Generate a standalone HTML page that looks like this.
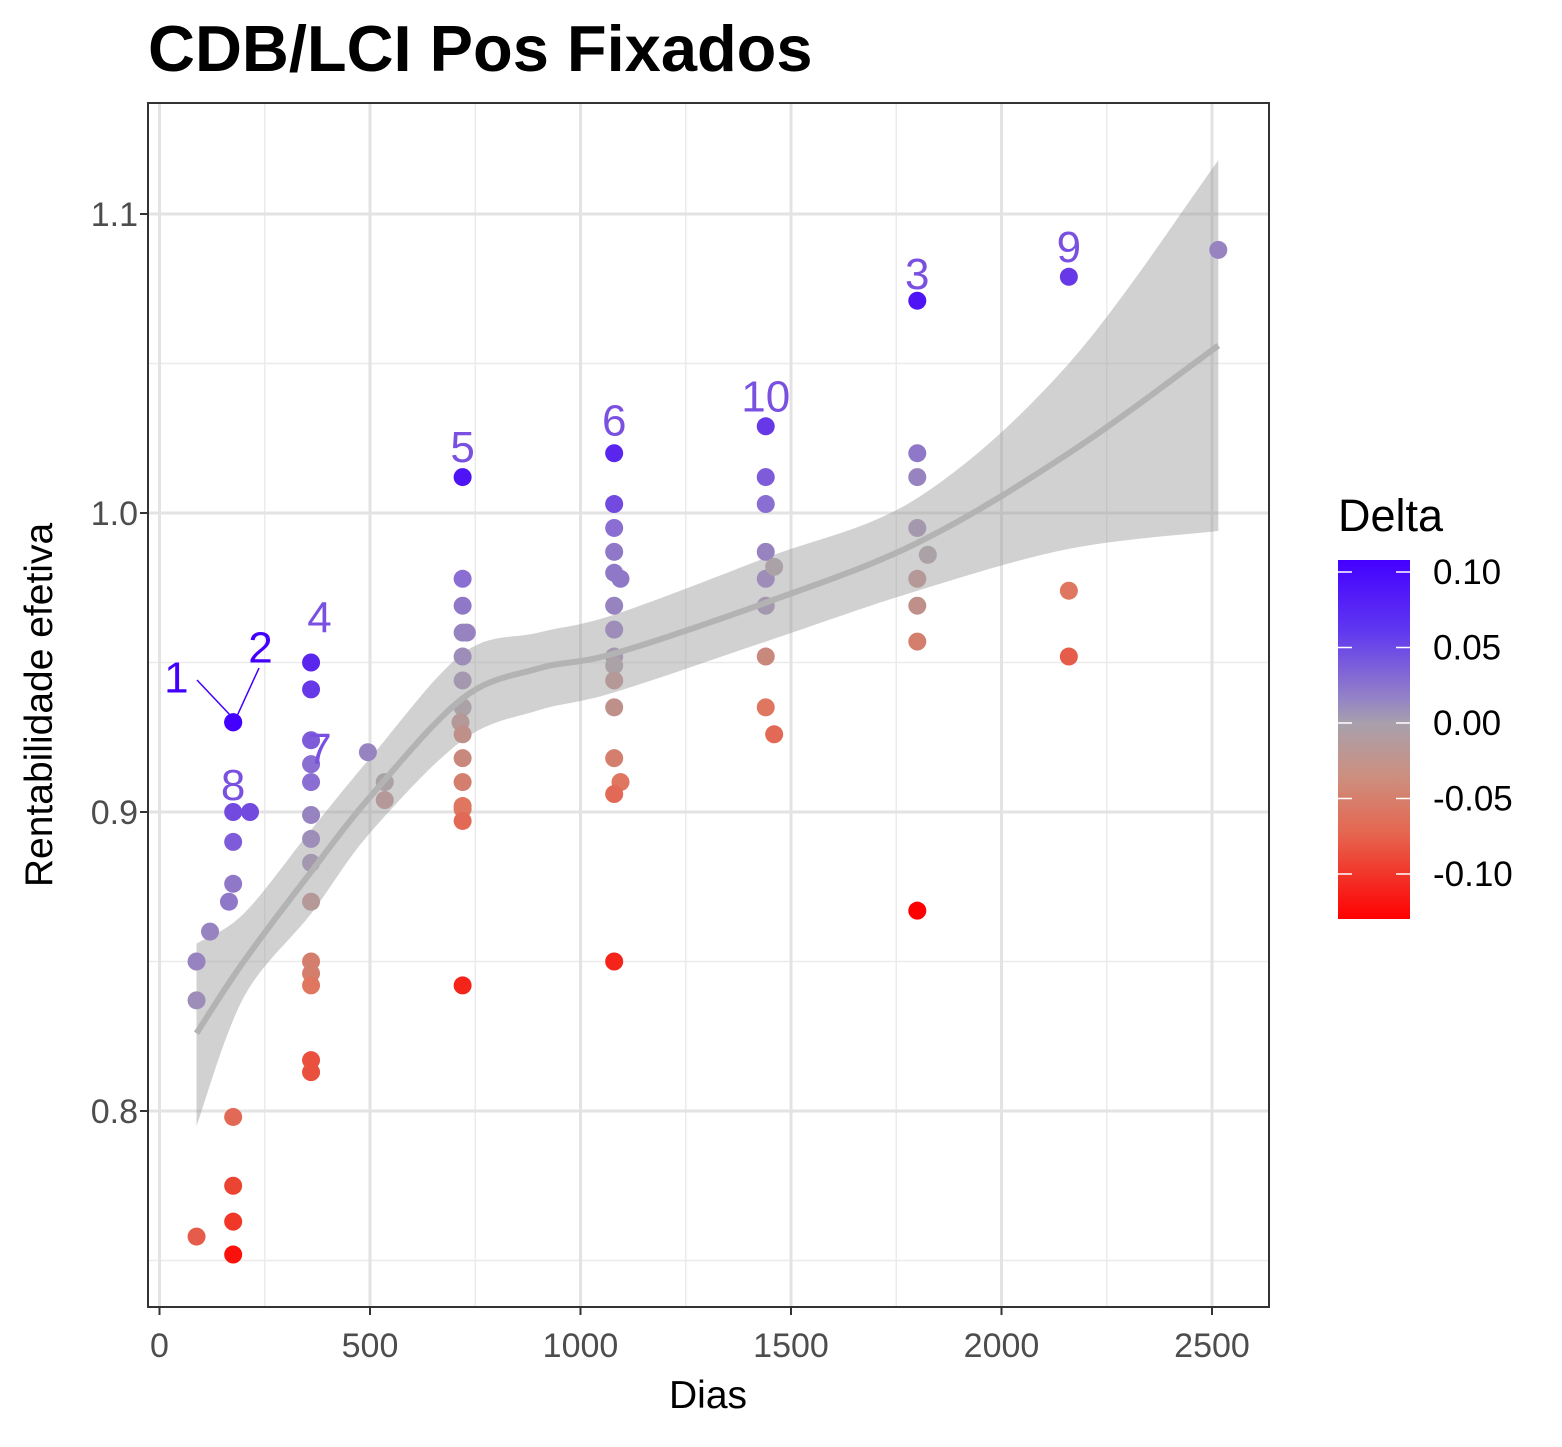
<!DOCTYPE html>
<html><head><meta charset="utf-8"><style>
body{margin:0;background:#fff;font-family:"Liberation Sans",Arial,sans-serif;}
svg text{font-family:"Liberation Sans",Arial,sans-serif;}
</style></head><body>
<svg id="chart" width="1562" height="1442" xmlns="http://www.w3.org/2000/svg">
<defs>
<linearGradient id="lg" x1="0" y1="0" x2="0" y2="1">
<stop offset="0" stop-color="#4400FF"/>
<stop offset="0.2" stop-color="#6038F0"/>
<stop offset="0.38" stop-color="#9280C8"/>
<stop offset="0.455" stop-color="#A8A0AC"/>
<stop offset="0.6" stop-color="#CC9080"/>
<stop offset="0.76" stop-color="#E56650"/>
<stop offset="1" stop-color="#FF0000"/>
</linearGradient>
</defs>
<text x="148" y="71" font-size="65" font-weight="bold" fill="#000">CDB/LCI Pos Fixados</text>
<g id="plot"></g>
<text x="708" y="1408" font-size="39" text-anchor="middle" fill="#000">Dias</text>
<text transform="translate(52,705) rotate(-90)" font-size="39" text-anchor="middle" fill="#000">Rentabilidade efetiva</text>
<g>
<text x="1338" y="531" font-size="45" fill="#000">Delta</text>
<rect x="1338" y="560" width="72" height="359" fill="url(#lg)"/>
<g id="legticks"></g>
</g>
</svg>
<script>
const xTicks=[0,500,1000,1500,2000,2500];
const yTicks=[0.8,0.9,1.0,1.1];
const yTickLabels=["0.8","0.9","1.0","1.1"];
const legendTicks=[0.10,0.05,0,-0.05,-0.10];
const legendLabels=["0.10","0.05","0.00","-0.05","-0.10"];
const pointX=[88,88,88,120,175,175,175,175,175,165,175,175,175,175,215,
360,360,360,360,360,360,360,360,360,360,360,360,360,360,495,535,535,
720,720,720,720,730,720,720,720,715,720,720,720,720,720,720,720,
1080,1080,1080,1080,1080,1095,1080,1080,1080,1080,1080,1080,1080,1095,1080,1080,
1440,1440,1440,1440,1440,1460,1440,1440,1440,1460,
1800,1800,1800,1800,1825,1800,1800,1800,1800,
2160,2160,2160,2515];
const pointY=[0.85,0.837,0.758,0.86,0.93,0.93,0.90,0.89,0.876,0.87,0.798,0.775,0.763,0.752,0.90,
0.95,0.941,0.924,0.916,0.91,0.899,0.891,0.883,0.870,0.85,0.846,0.842,0.817,0.813,0.92,0.91,0.904,
1.012,0.978,0.969,0.96,0.96,0.952,0.944,0.935,0.93,0.926,0.918,0.91,0.902,0.901,0.897,0.842,
1.02,1.003,0.995,0.987,0.98,0.978,0.969,0.961,0.952,0.949,0.944,0.935,0.918,0.91,0.906,0.85,
1.029,1.012,1.003,0.987,0.978,0.982,0.969,0.952,0.935,0.926,
1.071,1.02,1.012,0.995,0.986,0.978,0.969,0.957,0.867,
1.079,0.974,0.952,1.088];
const pointDelta=[0.03,0.02,-0.07,0.03,0.11,0.11,0.07,0.06,0.04,0.04,-0.06,-0.09,-0.10,-0.12,0.07,
0.09,0.08,0.06,0.05,0.05,0.03,0.02,0.01,-0.01,-0.04,-0.04,-0.05,-0.08,-0.08,0.03,0.0,-0.01,
0.10,0.05,0.04,0.03,0.03,0.02,0.01,0.0,-0.01,-0.02,-0.03,-0.04,-0.05,-0.05,-0.06,-0.11,
0.09,0.07,0.05,0.04,0.04,0.04,0.03,0.02,0.01,0.0,-0.01,-0.02,-0.04,-0.05,-0.06,-0.11,
0.08,0.06,0.05,0.03,0.02,0.0,0.01,-0.03,-0.05,-0.06,
0.10,0.04,0.03,0.01,0.0,-0.01,-0.02,-0.04,-0.13,
0.08,-0.05,-0.07,0.03];
const smoothX=[88,200,360,500,720,900,1080,1440,1800,2160,2515];
const smoothY=[0.826,0.85,0.88,0.905,0.938,0.948,0.953,0.97,0.99,1.02,1.056];
const bandUpper=[0.856,0.866,0.894,0.918,0.953,0.96,0.966,0.985,1.005,1.05,1.118];
const bandLower=[0.795,0.838,0.866,0.893,0.924,0.934,0.94,0.957,0.974,0.988,0.994];
const labelText=["1","2","3","4","5","6","7","8","9","10"];
const labelX=[40,240,1800,380,720,1080,380,175,2160,1440];
const labelY=[0.941,0.951,1.076,0.961,1.018,1.027,0.917,0.905,1.085,1.035];

const NS="http://www.w3.org/2000/svg";
const L=148,R=1269,T=103,B=1307;
const sx=v=>159.5+v*0.421;
const sy=v=>513-(v-1.0)*2990;
function col(d){
  const stops=[[-0.129,[255,0,0]],[-0.10,[240,55,40]],[-0.05,[222,118,96]],[0,[170,162,166]],[0.05,[138,110,210]],[0.10,[78,20,245]],[0.109,[68,0,255]]];
  if(d<=stops[0][0])return "rgb(255,0,0)";
  for(let i=1;i<stops.length;i++){if(d<=stops[i][0]){const a=stops[i-1],b=stops[i];const t=(d-a[0])/(b[0]-a[0]);return "rgb("+a[1].map((c,k)=>Math.round(c+(b[1][k]-c)*t)).join(",")+")";}}
  return "rgb(68,0,255)";
}
function mk(tag,attrs,parent){const e=document.createElementNS(NS,tag);for(const k in attrs)e.setAttribute(k,attrs[k]);parent.appendChild(e);return e;}
const g=document.getElementById('plot');
const bg=mk('rect',{x:L,y:T,width:R-L,height:B-T,fill:'#fff'},g);


for(let i=0;i<xTicks.length-1;i++){const v=(xTicks[i]+xTicks[i+1])/2;const ln=mk('line',{x1:sx(v),x2:sx(v),y1:T,y2:B,stroke:'#ebebeb','stroke-width':1.5},g);

}
for(const v of [0.75,0.85,0.95,1.05]){const ln=mk('line',{x1:L,x2:R,y1:sy(v),y2:sy(v),stroke:'#ebebeb','stroke-width':1.5},g);

}
xTicks.forEach(v=>{const ln=mk('line',{x1:sx(v),x2:sx(v),y1:T,y2:B,stroke:'#e3e3e3','stroke-width':3},g);


const tk=mk('line',{x1:sx(v),x2:sx(v),y1:B,y2:B+8,stroke:'#333','stroke-width':2},g);


const t=mk('text',{x:sx(v),y:B+50,'font-size':34,'text-anchor':'middle',fill:'#4d4d4d'},g);t.textContent=v;

});
yTicks.forEach((v,i)=>{const ln=mk('line',{x1:L,x2:R,y1:sy(v),y2:sy(v),stroke:'#e3e3e3','stroke-width':3},g);


const tk=mk('line',{x1:L-8,x2:L,y1:sy(v),y2:sy(v),stroke:'#333','stroke-width':2},g);


const t=mk('text',{x:L-10,y:sy(v)+12,'font-size':34,'text-anchor':'end',fill:'#4d4d4d'},g);t.textContent=yTickLabels[i];

});
function crPts(xs,ys){const p=xs.map((x,i)=>[sx(x),sy(ys[i])]);const out=[];for(let i=0;i<p.length-1;i++){const p0=p[Math.max(0,i-1)],p1=p[i],p2=p[i+1],p3=p[Math.min(p.length-1,i+2)];for(let s=0;s<12;s++){const t=s/12,t2=t*t,t3=t2*t;out.push([0.5*(2*p1[0]+(-p0[0]+p2[0])*t+(2*p0[0]-5*p1[0]+4*p2[0]-p3[0])*t2+(-p0[0]+3*p1[0]-3*p2[0]+p3[0])*t3),0.5*(2*p1[1]+(-p0[1]+p2[1])*t+(2*p0[1]-5*p1[1]+4*p2[1]-p3[1])*t2+(-p0[1]+3*p1[1]-3*p2[1]+p3[1])*t3)]);}}out.push(p[p.length-1]);return out;}
const up=crPts(smoothX,bandUpper),lo=crPts(smoothX,bandLower).reverse();
const band=mk('path',{d:'M'+up.concat(lo).map(q=>q[0].toFixed(1)+','+q[1].toFixed(1)).join('L')+'Z',fill:'#999','fill-opacity':0.45},g);


for(let i=0;i<pointX.length;i++){const c=mk('circle',{cx:sx(pointX[i]),cy:sy(pointY[i]),r:9,fill:col(pointDelta[i])},g);

}
const sm=crPts(smoothX,smoothY);
const line=mk('path',{d:'M'+sm.map(q=>q[0].toFixed(1)+','+q[1].toFixed(1)).join('L'),fill:'none',stroke:'#b3b3b3','stroke-width':6},g);


const c1=mk('line',{x1:197,y1:680,x2:231,y2:716,stroke:'#4400FF','stroke-width':1.5},g);


const c2=mk('line',{x1:259,y1:668,x2:237,y2:716,stroke:'#4400FF','stroke-width':1.5},g);


labelText.forEach((s,i)=>{const t=mk('text',{x:sx(labelX[i]),y:sy(labelY[i])+3,'font-size':44,'text-anchor':'middle',fill:i<2?'#4400FF':'#7a50e0'},g);t.textContent=s;

});
const fr=mk('rect',{x:L,y:T,width:R-L,height:B-T,fill:'none',stroke:'#333','stroke-width':2},g);


const lgt=document.getElementById('legticks');
const ly=v=>723-v*1510;
legendTicks.forEach((v,i)=>{
const a=mk('line',{x1:1338,x2:1352,y1:ly(v),y2:ly(v),stroke:'#fff','stroke-width':1.5},lgt);


const b=mk('line',{x1:1396,x2:1410,y1:ly(v),y2:ly(v),stroke:'#fff','stroke-width':1.5},lgt);


const t=mk('text',{x:1433,y:ly(v)+12,'font-size':35,fill:'#000'},lgt);t.textContent=legendLabels[i];

});
</script>
</body></html>
